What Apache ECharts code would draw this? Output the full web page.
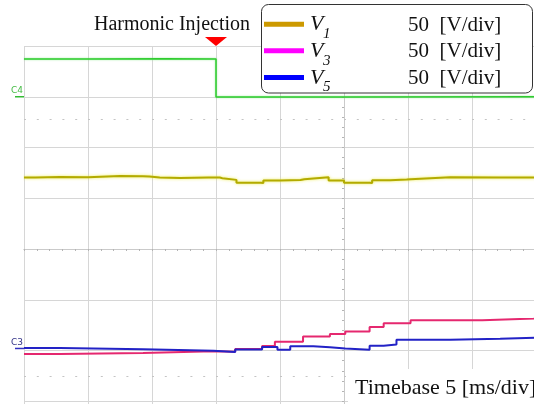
<!DOCTYPE html>
<html><head><meta charset="utf-8">
<script src="https://cdn.jsdelivr.net/npm/echarts@6/dist/echarts.min.js"></script>
<style>html,body{margin:0;padding:0;background:#fff;overflow:hidden}
#wrap{width:534px;height:404px;overflow:hidden;position:relative}
#c{width:700px;height:470px;position:absolute;left:0;top:0}</style>
</head><body><div id="wrap"><div id="c"></div></div>
<script>
// time in ms relative to screen centre (5 ms/div), amplitude in screen divisions
const timeRangeMs = [-25, 25];
const timeStepMs = 5;
const divRange = [-4, 4];
const injectionTimeMs = -10;
const cursorLevels = [2.55, -2.5];
const legendNames = ['V1', 'V3', 'V5'];
const legendSubs = ['1', '3', '5'];
const legendScale = '50  [V/div]';
const channelLabels = ['C4', 'C3'];
const channelRefs = [3.0, -1.96];

const c4Trace = [[-25, 3.744], [-20, 3.75], [-14, 3.744], [-10, 2.996], [0, 3.0], [14.9, 2.996]];
const v1Trace = [[-25, 1.41], [-24.1, 1.42], [-22.2, 1.415], [-20.0, 1.44], [-17.5, 1.435], [-15.7, 1.427],
  [-15.2, 1.41], [-14.4, 1.40], [-12.8, 1.41], [-10.6, 1.407], [-9.7, 1.396], [-9.5, 1.362], [-8.4, 1.303],
  [-6.5, 1.30], [-6.3, 1.348], [-5.0, 1.36], [-3.4, 1.376], [-3.1, 1.415], [-1.2, 1.348], [0.0, 1.303],
  [2.0, 1.30], [2.2, 1.356], [3.6, 1.368], [4.9, 1.376], [5.2, 1.415], [8.3, 1.408], [12.2, 1.41], [14.9, 1.41]];
const v3Trace = [[-25, -2.07], [-22.2, -2.05], [-15.7, -2.015], [-10.2, -2.024], [-8.5, -1.97], [-6.4, -1.91],
  [-5.4, -1.83], [-3.2, -1.724], [-1.1, -1.675], [0.1, -1.624], [2.0, -1.537], [3.1, -1.463], [5.2, -1.404],
  [10.8, -1.37], [14.9, -1.35]];
const v5Trace = [[-25, -1.95], [-22.2, -1.975], [-15.7, -2.004], [-10.2, -2.03], [-8.5, -1.978], [-6.4, -1.931],
  [-5.2, -1.984], [-4.2, -1.915], [-2.4, -1.935], [-1.1, -1.961], [0.1, -1.984], [2.0, -1.906], [3.1, -1.88],
  [4.1, -1.787], [8.3, -1.77], [12.2, -1.75], [14.9, -1.742]];

const chart = echarts.init(document.getElementById('c'), null, {renderer: 'canvas'});
const serif = '"Liberation Serif"';
const tickStyle = {color: '#b4b4b4', width: 1};
function xAx(inside, main) {
  return {type: 'value', min: timeRangeMs[0], max: timeRangeMs[1], interval: timeStepMs,
    axisLine: {show: true, onZero: true, lineStyle: {color: '#cacaca', width: 1}},
    axisTick: {show: true, inside: inside, length: 2, lineStyle: tickStyle},
    minorTick: {show: true, splitNumber: 5, length: 2, lineStyle: tickStyle},
    axisLabel: {show: false},
    splitLine: {show: main, lineStyle: {color: '#d6d6d6', width: 1}}};
}
function yAx(inside, main) {
  return {type: 'value', min: divRange[0], max: divRange[1], interval: 1,
    axisLine: {show: true, onZero: true, lineStyle: {color: '#cacaca', width: 1}},
    axisTick: {show: true, inside: inside, length: 2, lineStyle: tickStyle},
    minorTick: {show: true, splitNumber: 5, length: 2, lineStyle: tickStyle},
    axisLabel: {show: false},
    splitLine: {show: main, lineStyle: {color: '#d6d6d6', width: 1}}};
}
const traceColors = ['#b3ab00', '#e5286f', '#2222c6'];
const legendColors = ['#cc9900', '#ff00ff', '#0000ff'];
const traces = [v1Trace, v3Trace, v5Trace];

const option = {
  animation: false,
  backgroundColor: '#ffffff',
  grid: {left: 24, top: 46, width: 640, height: 406},
  xAxis: [xAx(false, true), xAx(true, false)],
  yAxis: [yAx(false, true), yAx(true, false)],
  series: [
    {name: 'C4', type: 'line', data: c4Trace, step: 'end', showSymbol: false, z: 3,
      lineStyle: {color: '#2ecc2e', width: 1.5, shadowColor: 'rgba(120,230,120,0.8)', shadowBlur: 2},
      itemStyle: {color: '#2ecc2e'},
      markLine: {silent: true, symbol: 'none', label: {show: false},
        lineStyle: {color: '#c4c4c4', width: 1, type: [2, 10.8]},
        data: cursorLevels.map(v => ({yAxis: v}))},
      markPoint: {silent: true, label: {show: false},
        data: [{coord: [injectionTimeMs, divRange[1]], symbol: 'triangle', symbolRotate: 180,
          symbolSize: [22, 9], symbolOffset: [0, -4.5], itemStyle: {color: '#ff0000'}}]}
    }
  ].concat(traces.map((d, i) => ({
    name: legendNames[i], type: 'line', data: d, step: 'end', showSymbol: false, z: 3 + i,
    lineStyle: i === 0 ? {color: traceColors[i], width: 2, shadowColor: 'rgba(235,235,60,0.9)', shadowBlur: 3}
                       : {color: traceColors[i], width: 2},
    itemStyle: {color: legendColors[i]}
  })))
};
chart.setOption(option);

const tri = chart.convertToPixel({xAxisIndex: 0, yAxisIndex: 0}, [injectionTimeMs, divRange[1]]);
const graphics = [
  {type: 'text', x: tri[0] + 34, y: 25, z: 10,
    style: {text: 'Harmonic Injection', font: '20px ' + serif, fill: '#111', align: 'right', verticalAlign: 'middle'}},
  {type: 'rect', shape: {x: 348, y: 369, width: 200, height: 40}, style: {fill: '#ffffff'}, z: 9},
  {type: 'text', x: 355, y: 388, z: 10,
    style: {text: 'Timebase 5 [ms/div]', font: '22px ' + serif, fill: '#111', align: 'left', verticalAlign: 'middle'}},
  // legend box
  {type: 'rect', shape: {x: 261.5, y: 4.5, width: 271, height: 88.5, r: 7}, z: 20,
    style: {fill: '#ffffff', stroke: '#333333', lineWidth: 1}}
];
legendNames.forEach((nm, i) => {
  const cy = 24.2 + 26.65 * i;
  graphics.push({type: 'rect', shape: {x: 264, y: cy - 2.5, width: 40, height: 5}, z: 21, style: {fill: legendColors[i]}});
  graphics.push({type: 'text', x: 310, y: cy + 0.5, z: 21,
    style: {text: 'V', font: 'italic 22px ' + serif, fill: '#111', verticalAlign: 'middle'}});
  graphics.push({type: 'text', x: 323, y: cy + 9.8, z: 21,
    style: {text: legendSubs[i], font: 'italic 15px ' + serif, fill: '#111', verticalAlign: 'middle'}});
  graphics.push({type: 'text', x: 408, y: cy + 1, z: 21,
    style: {text: legendScale, font: '21px ' + serif, fill: '#111', verticalAlign: 'middle'}});
});
const chColors = [['#44bb44', '#33bb33'], ['#333388', '#3030c0']];
channelLabels.forEach((lab, i) => {
  const p = chart.convertToPixel({xAxisIndex: 0, yAxisIndex: 0}, [timeRangeMs[0], channelRefs[i]]);
  graphics.push({type: 'text', x: p[0] - 7, y: p[1] - 6, z: 10,
    style: {text: lab, font: '9px "DejaVu Sans"', fill: chColors[i][0], align: 'center', verticalAlign: 'middle'}});
  graphics.push({type: 'line', shape: {x1: p[0] - 9, y1: p[1], x2: p[0], y2: p[1]}, z: 10,
    style: {stroke: chColors[i][1], lineWidth: 1.5}});
});
chart.setOption({graphic: graphics});
</script></body></html>
